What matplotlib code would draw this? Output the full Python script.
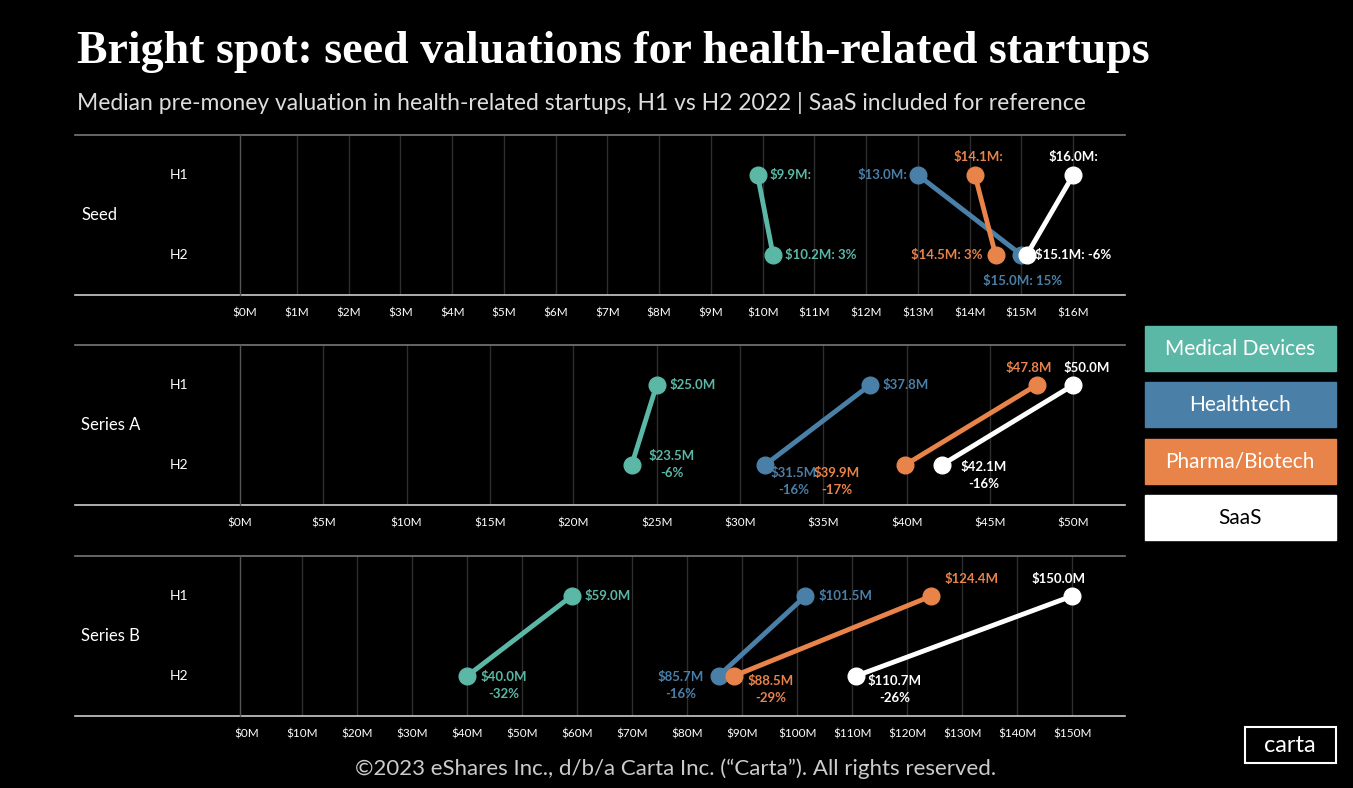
import matplotlib
matplotlib.use("Agg")
import matplotlib.pyplot as plt
from matplotlib.patches import Rectangle

series = ["Medical Devices", "Healthtech", "Pharma/Biotech", "SaaS"]
colors = ["#5bb8a6", "#4a7fa8", "#e8834a", "#ffffff"]
rounds = ["Seed", "Series A", "Series B"]
h1 = {"Seed": [9.9, 13.0, 14.1, 16.0], "Series A": [25.0, 37.8, 47.8, 50.0], "Series B": [59.0, 101.5, 124.4, 150.0]}
h2 = {"Seed": [10.2, 15.0, 14.5, 15.1], "Series A": [23.5, 31.5, 39.9, 42.1], "Series B": [40.0, 85.7, 88.5, 110.7]}
pct = {"Seed": ["3%", "15%", "3%", "-6%"], "Series A": ["-6%", "-16%", "-17%", "-16%"], "Series B": ["-32%", "-16%", "-29%", "-26%"]}
ticks = {"Seed": list(range(0, 17)), "Series A": list(range(0, 51, 5)), "Series B": list(range(0, 151, 10))}
xlims = {"Seed": (-0.1, 17.0), "Series A": (0, 53.1), "Series B": (-1.3, 159.6)}

# label offsets (pixels): (dx, dy, ha)
off1 = {"Seed": [(12, 0, "left"), (-11, 0, "right"), (3, 18, "center"), (0, 18, "center")],
        "Series A": [(13, 0, "left"), (13, 0, "left"), (-8, 17, "center"), (13, 17, "center")],
        "Series B": [(13, 0, "left"), (13, 0, "left"), (40, 17, "center"), (-14, 17, "center")]}
off2 = {"Seed": [(12, 0, "left"), (1, -26, "center"), (-13, 0, "right"), (8, 0, "left")],
        "Series A": [(40, 0, "center"), (29, -17, "center"), (-68, -17, "center"), (42, -11, "center")],
        "Series B": [(37, -9, "center"), (-38, -9, "center"), (37, -14, "center"), (39, -14, "center")]}

W, H = 1353, 788
fig = plt.figure(figsize=(W / 100, H / 100), dpi=100, facecolor="black")
FONT = "Lato"

def fx(x): return x / W
def fy(y): return 1 - y / H

fig.text(fx(77), fy(52), "Bright spot: seed valuations for health-related startups", color="white",
         fontsize=33, fontweight="bold", family="Liberation Serif", va="center", ha="left")
fig.text(fx(77), fy(103), "Median pre-money valuation in health-related startups, H1 vs H2 2022 | SaaS included for reference",
         color="#dddddd", fontsize=16.5, family=FONT, va="center", ha="left")

tops = [135, 345, 556]
for r, top in zip(rounds, tops):
    bot = top + 160
    ax = fig.add_axes([fx(240), fy(bot), fx(1125) - fx(240), (bot - top) / H])
    ax.set_facecolor("black")
    ax.set_xlim(*xlims[r]); ax.set_ylim(-0.5, 1.5)
    for t in ticks[r][1:]:
        ax.axvline(t, color="#2e2e2e", lw=1, zorder=0)
    for s in ["top", "right", "bottom", "left"]:
        ax.spines[s].set_visible(False)
    ax.set_xticks(ticks[r])
    ax.set_xticklabels([f"${t}M" for t in ticks[r]], color="white", fontsize=8.5, family=FONT)
    ax.tick_params(axis="x", length=0, pad=9)
    ax.set_yticks([])
    for i in range(4):
        ax.plot([h1[r][i], h2[r][i]], [1, 0], color=colors[i], lw=3.5, zorder=2,
                marker="o", markersize=12, solid_capstyle="round")
        dx, dy, ha = off1[r][i]
        ax.annotate(f"${h1[r][i]:.1f}M" + (":" if r == "Seed" else ""), (h1[r][i], 1), xytext=(dx, dy),
                    textcoords="offset pixels", color=colors[i], fontsize=9.5, fontweight="bold",
                    family=FONT, ha=ha, va="center", zorder=3)
        dx, dy, ha = off2[r][i]
        txt = f"${h2[r][i]:.1f}M: {pct[r][i]}" if r == "Seed" else f"${h2[r][i]:.1f}M\n{pct[r][i]}"
        ax.annotate(txt, (h2[r][i], 0), xytext=(dx, dy), textcoords="offset pixels", color=colors[i],
                    fontsize=9.5, fontweight="bold", family=FONT, ha=ha, va="center",
                    multialignment="center", linespacing=1.5, zorder=3)
    fig.add_artist(plt.Line2D([fx(75), fx(1125)], [fy(top), fy(top)], color="#777777", lw=1.2))
    fig.add_artist(plt.Line2D([fx(75), fx(1125)], [fy(bot), fy(bot)], color="#cccccc", lw=1.2))
    fig.add_artist(plt.Line2D([fx(240), fx(240)], [fy(top), fy(bot)], color="#555555", lw=1))
    fig.text(fx(81), fy(top + 80), r, color="white", fontsize=12, family=FONT, va="center")
    fig.text(fx(170), fy(top + 40), "H1", color="white", fontsize=10, family=FONT, va="center")
    fig.text(fx(170), fy(top + 120), "H2", color="white", fontsize=10, family=FONT, va="center")

# legend
for i, (s, c) in enumerate(zip(series, colors)):
    y0 = 326 + i * 56.3
    fig.add_artist(Rectangle((fx(1145), fy(y0 + 45)), fx(1336) - fx(1145), 45 / H, color=c, transform=fig.transFigure))
    fig.text(fx(1240), fy(y0 + 23), s, color="black" if c == "#ffffff" else "white", fontsize=15,
             family=FONT, ha="center", va="center")

fig.text(fx(676), fy(769), "©2023 eShares Inc., d/b/a Carta Inc. (“Carta”). All rights reserved.",
         color="#cccccc", fontsize=16, family=FONT, ha="center", va="center")
fig.add_artist(Rectangle((fx(1245), fy(763)), fx(1336) - fx(1245), 36 / H, fill=False, ec="white", lw=1.5,
                         transform=fig.transFigure))
fig.text(fx(1290), fy(745), "carta", color="white", fontsize=17, family=FONT, ha="center", va="center")

fig.savefig("out.png", dpi=100, facecolor="black")
